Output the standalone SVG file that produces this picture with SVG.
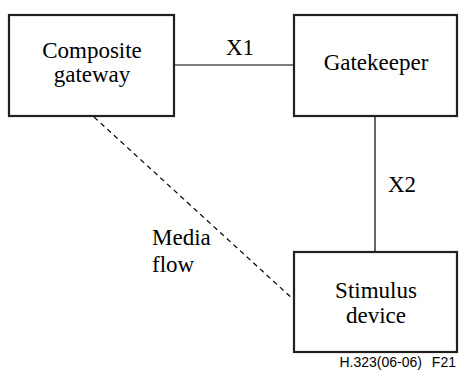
<svg xmlns="http://www.w3.org/2000/svg" width="459" height="371" viewBox="0 0 459 371">
<style>
.box{fill:#fff;stroke:#231f20;stroke-width:2.2}
.t{font-family:'Liberation Serif','DejaVu Serif',serif;font-size:23px;fill:#000;text-anchor:middle}
.l{font-family:'Liberation Serif','DejaVu Serif',serif;font-size:23px;fill:#000}
.c{stroke:#000;stroke-width:1.2;fill:none}
.d{stroke:#000;stroke-width:1.2;fill:none;stroke-dasharray:5,4}
.f{font-family:'Liberation Sans',Arial,sans-serif;font-size:14px;fill:#000;text-anchor:end}
</style>
<rect width="459" height="371" fill="#fff"/>
<g id="connectors">
<line class="c" x1="174" y1="65" x2="294" y2="65"/>
<line class="c" x1="375" y1="116" x2="375" y2="252"/>
<line class="d" x1="94" y1="117" x2="294" y2="300"/>
<text class="l" x="226" y="55">X1</text>
<text class="l" x="388" y="192">X2</text>
<text class="l" x="152" y="245">Media</text>
<text class="l" x="152" y="272">flow</text>
</g>
<g id="composite-gateway">
<rect class="box" x="9" y="15" width="165" height="101"/>
<text class="t" x="92" y="58">Composite</text>
<text class="t" x="92" y="82">gateway</text>
</g>
<g id="gatekeeper">
<rect class="box" x="294" y="15" width="163" height="101"/>
<text class="t" x="376" y="70">Gatekeeper</text>
</g>
<g id="stimulus-device">
<rect class="box" x="294" y="252" width="163" height="100"/>
<text class="t" x="376" y="298">Stimulus</text>
<text class="t" x="376" y="323">device</text>
</g>
<text class="f" x="456" y="367" style="word-spacing:6px">H.323(06-06) F21</text>
</svg>
